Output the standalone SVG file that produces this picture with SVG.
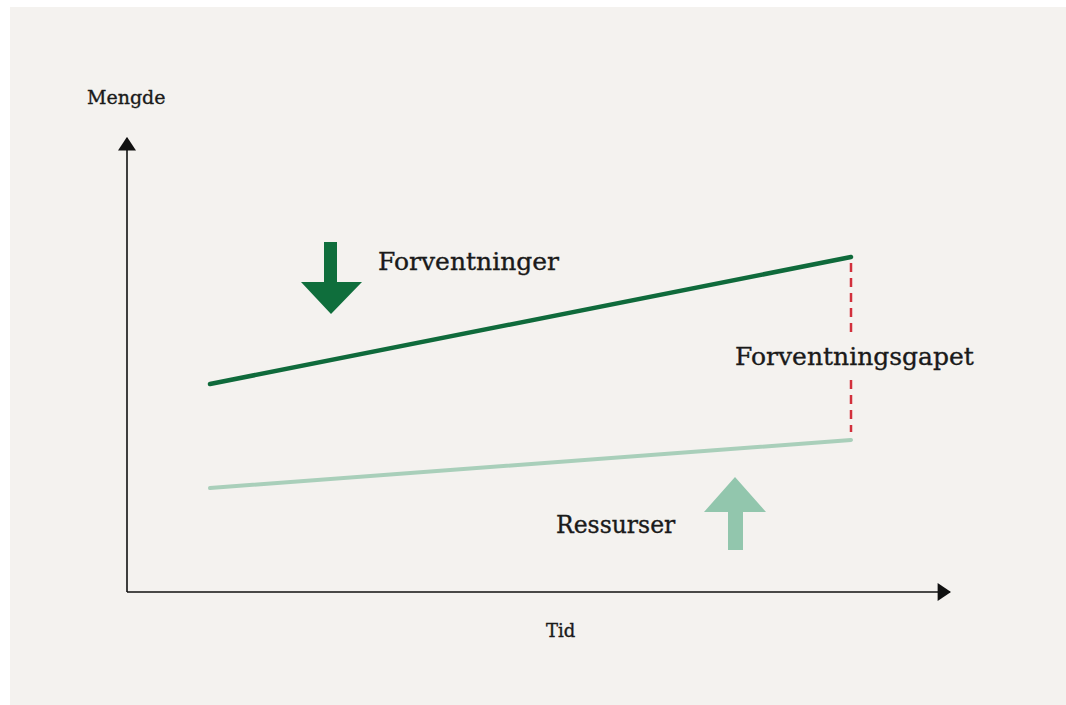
<svg xmlns="http://www.w3.org/2000/svg" width="1066" height="705" viewBox="0 0 1066 705">
<style>
.lbl{font-family:"DejaVu Serif","Liberation Serif",serif;fill:#1a1a1a;stroke:#1a1a1a;stroke-width:0.35}
.axis{stroke:#111;stroke-width:1.6;fill:none}
.gap{stroke:#d2303c;stroke-width:2.5;stroke-dasharray:9 6;fill:none}
</style>
<defs>
<marker id="ah2" viewBox="0 0 12 16" refX="11" refY="8" markerWidth="14" markerHeight="18" markerUnits="userSpaceOnUse" orient="auto">
<path d="M0,0 L12,8 L0,16 z" fill="#111"/>
</marker>
</defs>
<rect x="0" y="0" width="1066" height="705" fill="#ffffff"/>
<rect x="10" y="7" width="1056" height="698" fill="#f4f2ef"/>
<g id="axes">
<path class="axis" d="M127,592 L127,138" marker-end="url(#ah2)"/>
<path class="axis" d="M127,592 L950,592" marker-end="url(#ah2)"/>
<text class="lbl" x="87" y="104" font-size="19">Mengde</text>
<text class="lbl" x="546" y="637" font-size="18">Tid</text>
</g>
<g id="connectors">
<line x1="210" y1="384" x2="851" y2="257" stroke="#0f6a3b" stroke-width="4.5" stroke-linecap="round"/>
<line x1="210" y1="488" x2="851" y2="440" stroke="#a9cfba" stroke-width="4" stroke-linecap="round"/>
<line class="gap" x1="851" y1="263" x2="851" y2="334"/>
<line class="gap" x1="851" y1="380" x2="851" y2="432"/>
</g>
<g id="forventninger">
<path d="M324,242 L337,242 L337,282 L362,282 L331,314 L301,282 L324,282 Z" fill="#0f6e3c"/>
<text class="lbl" x="378" y="270" font-size="25">Forventninger</text>
</g>
<g id="ressurser">
<path d="M735,477 L766,512 L743,512 L743,550 L728,550 L728,512 L704,512 Z" fill="#92c6ad"/>
<text class="lbl" x="556" y="533" font-size="23.5">Ressurser</text>
</g>
<g id="forventningsgapet">
<text class="lbl" x="735" y="365" font-size="25">Forventningsgapet</text>
</g>
</svg>
